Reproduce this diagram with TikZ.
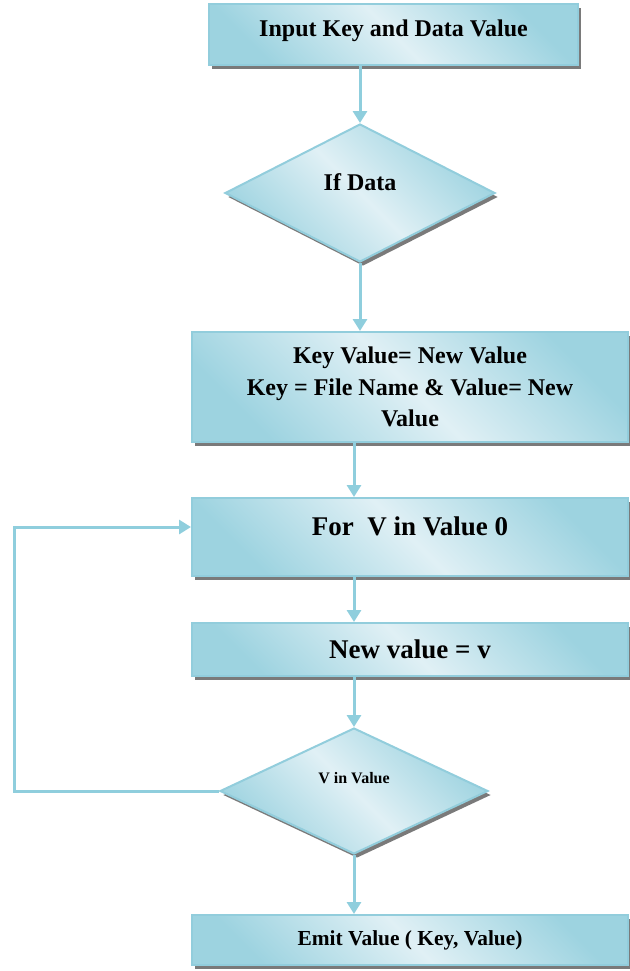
\documentclass[tikz,border=0pt]{standalone}
\usepackage{fontspec}
\setmainfont{Liberation Serif}
\usepackage{xcolor}
\usetikzlibrary{arrows.meta,positioning,shapes.geometric,shadows}
\definecolor{boxdark}{HTML}{9DD3E0}
\definecolor{boxlight}{HTML}{E0F0F5}
\definecolor{boxedge}{HTML}{92CDDC}
\definecolor{arrowblue}{HTML}{8FCEDD}
\definecolor{shadowgray}{HTML}{7A7A7A}

\begin{document}
\begin{tikzpicture}[
    x=0.5pt, y=-0.5pt,
    every node/.style={font=\bfseries, text=black},
    flowshade/.style={
      draw=boxedge, line width=1pt,
      top color=boxdark, bottom color=boxdark, middle color=boxlight,
      shading angle=-45,
      general shadow={fill=shadowgray, shadow xshift=1.5pt, shadow yshift=-2pt}
    },
    procbox/.style={rectangle, flowshade, minimum width=218pt, align=center, inner sep=0pt},
    decbox/.style={diamond, flowshade, inner sep=0pt},
    flowarr/.style={-{Triangle[length=6pt, width=7pt]}, line width=1.5pt, arrowblue}
  ]
    \useasboundingbox (0,0) rectangle (629,971);

    % Boxes and decisions
    \node[procbox, minimum width=184.5pt, minimum height=30.5pt,
          font=\fontsize{12}{14}\selectfont\bfseries, text height=8pt, text depth=6pt]
      (inp) at (393.5,34.5) {Input Key and Data Value};
    \node[decbox, minimum width=135pt, minimum height=69pt,
          font=\fontsize{12}{14}\selectfont\bfseries, text height=8pt, text depth=11pt]
      (ifd) at (360,193) {If Data};
    \node[procbox, minimum height=55pt, font=\fontsize{12}{15.8}\selectfont\bfseries]
      (kv) at (410,387) {Key Value= New Value\\Key = File Name \& Value= New\\Value};
    \node[procbox, minimum height=39pt,
          font=\fontsize{13.5}{16}\selectfont\bfseries, text height=9.5pt, text depth=11.5pt]
      (forv) at (410,537) {For~~V in Value 0};
    \node[procbox, minimum height=26.5pt, font=\fontsize{13.5}{16}\selectfont\bfseries]
      (nv) at (410,649.5) {New value = v};
    \node[decbox, minimum width=134pt, minimum height=63pt,
          font=\fontsize{8}{10}\selectfont\bfseries, text height=6pt, text depth=14pt]
      (vin) at (354,791) {V in Value};
    \node[procbox, minimum height=25pt, font=\fontsize{10.7}{13}\selectfont\bfseries]
      (emit) at (410,940) {Emit Value ( Key, Value)};

    % Main flow
    \draw[flowarr] (ifd.north |- inp.south) -- (ifd.north);
    \draw[flowarr] (ifd.south) -- (ifd.south |- kv.north);
    \draw[flowarr] (vin.north |- kv.south) -- (vin.north |- forv.north);
    \draw[flowarr] (vin.north |- forv.south) -- (vin.north |- nv.north);
    \draw[flowarr] (vin.north |- nv.south) -- (vin.north);
    \draw[flowarr] (vin.south) -- (vin.south |- emit.north);

    % Loop back
    \coordinate (loopx) at (14,0);
    \draw[flowarr] (vin.west) -- (vin.west -| loopx) |- ([yshift=5pt]forv.west);
\end{tikzpicture}
\end{document}
